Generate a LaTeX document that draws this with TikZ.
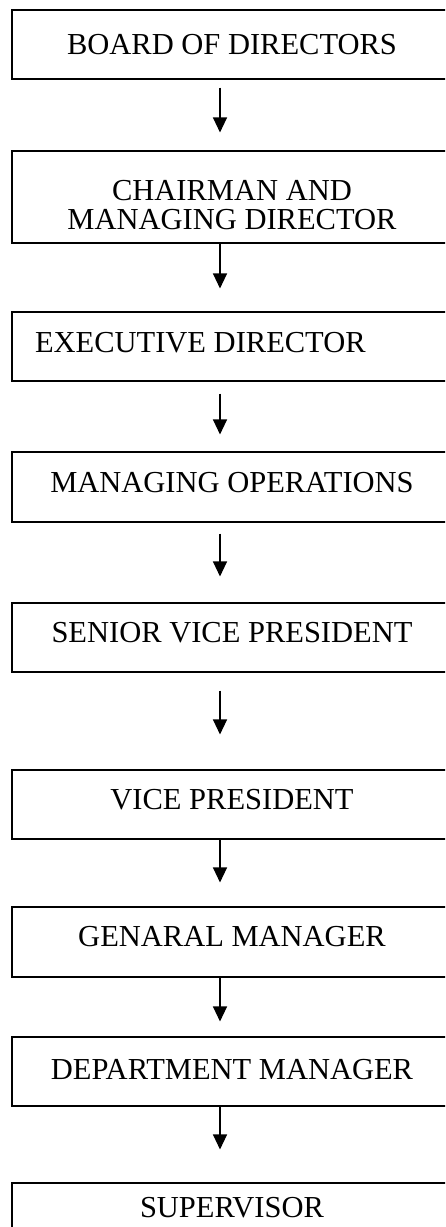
\documentclass[tikz,border=0pt]{standalone}
\usepackage{fontspec}
\setmainfont{Liberation Serif}
\usetikzlibrary{arrows.meta}
\begin{document}
\begin{tikzpicture}[x=1pt,y=-1pt,
  box/.style={draw, line width=1.1pt, rectangle, minimum width=440pt, inner sep=0pt,
    font=\fontsize{30.5}{28.5}\selectfont, text height=19.9pt},
  txtup/.style={text depth=#1},
  arr/.style={line width=1.2pt, -{Triangle[width=14pt,length=15pt]}}]
\useasboundingbox (0,0) rectangle (445,1227);
\clip (0,0) rectangle (445,1227);

\node[box, minimum height=69pt, txtup=0pt] (b1) at (232,44.5) {BOARD OF DIRECTORS};
\node[box, minimum height=92pt, align=center, text height=64pt, text depth=0pt] (b2) at (232,197) {CHAIRMAN AND\\MANAGING DIRECTOR};
\node[box, minimum height=69pt, txtup=7pt] (b3) at (232,346.5) {\makebox[394pt][l]{EXECUTIVE DIRECTOR}};
\node[box, minimum height=70pt, txtup=8pt] (b4) at (232,487) {MANAGING OPERATIONS};
\node[box, minimum height=69pt, txtup=9pt] (b5) at (232,637.5) {SENIOR VICE PRESIDENT};
\node[box, minimum height=69pt, txtup=9pt] (b6) at (232,804.5) {VICE PRESIDENT};
\node[box, minimum height=70pt, txtup=10pt] (b7) at (232,942) {GENARAL MANAGER};
\node[box, minimum height=69pt, txtup=3pt] (b8) at (232,1071.5) {DEPARTMENT MANAGER};
\node[box, minimum height=69pt, txtup=19pt] (b9) at (232,1217.5) {SUPERVISOR};

\draw[arr, shorten <=8pt, shorten >=18pt] ([xshift=-12pt]b1.south) -- ([xshift=-12pt]b2.north);
\draw[arr, shorten <=0pt, shorten >=23pt] ([xshift=-12pt]b2.south) -- ([xshift=-12pt]b3.north);
\draw[arr, shorten <=12pt, shorten >=17pt] ([xshift=-12pt]b3.south) -- ([xshift=-12pt]b4.north);
\draw[arr, shorten <=11pt, shorten >=26pt] ([xshift=-12pt]b4.south) -- ([xshift=-12pt]b5.north);
\draw[arr, shorten <=18pt, shorten >=35pt] ([xshift=-12pt]b5.south) -- ([xshift=-12pt]b6.north);
\draw[arr, shorten <=0pt, shorten >=24pt] ([xshift=-12pt]b6.south) -- ([xshift=-12pt]b7.north);
\draw[arr, shorten <=0pt, shorten >=15pt] ([xshift=-12pt]b7.south) -- ([xshift=-12pt]b8.north);
\draw[arr, shorten <=0pt, shorten >=33pt] ([xshift=-12pt]b8.south) -- ([xshift=-12pt]b9.north);
\end{tikzpicture}
\end{document}
